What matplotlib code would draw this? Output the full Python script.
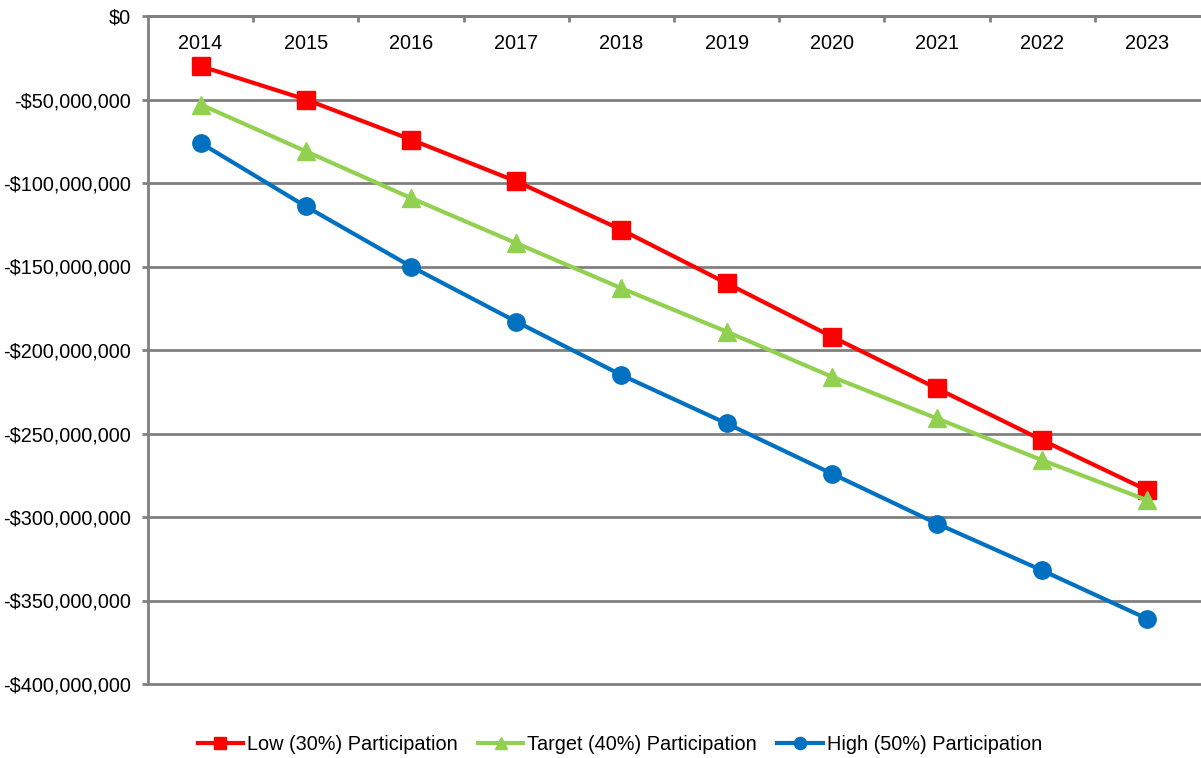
import matplotlib
matplotlib.use("Agg")
import matplotlib.pyplot as plt
from matplotlib.ticker import FuncFormatter, MultipleLocator

years = ["2014", "2015", "2016", "2017", "2018", "2019", "2020", "2021", "2022", "2023"]
low = [-30e6, -50e6, -74e6, -99e6, -128e6, -160e6, -192e6, -223e6, -254e6, -284e6]
target = [-53e6, -81e6, -109e6, -136e6, -163e6, -189e6, -216e6, -241e6, -266e6, -290e6]
high = [-76e6, -114e6, -150e6, -183e6, -215e6, -244e6, -274e6, -304e6, -332e6, -361e6]
series_names = ["Low (30%) Participation", "Target (40%) Participation", "High (50%) Participation"]

plt.rcParams['font.family'] = ['Liberation Sans', 'DejaVu Sans']
FS = 14.3

fig = plt.figure(figsize=(12.01, 7.58), dpi=100)
ax = fig.add_axes([148/1201, 1 - 684/758, (1200-148)/1201, (684-16)/758])

x = list(range(len(years)))
ax.plot(x, low, color="#FF0000", lw=3, marker="s", ms=12.5, label=series_names[0], zorder=3)
ax.plot(x, target, color="#92D050", lw=3, marker="^", ms=13, label=series_names[1], zorder=3)
ax.plot(x, high, color="#0070C0", lw=3, marker="o", ms=12.5, label=series_names[2], zorder=3)

ax.set_xlim(-0.5, len(years) - 0.5)
ax.set_ylim(-400e6, 0)
ax.yaxis.set_major_locator(MultipleLocator(50e6))

def fmt(v, pos):
    if v == 0:
        return "$0"
    s = "${:,.0f}".format(abs(v))
    return "-" + s if v < 0 else s
ax.yaxis.set_major_formatter(FuncFormatter(fmt))

ax.grid(axis="y", color="#808080", lw=2, zorder=1)
ax.set_axisbelow(True)
for gl in ax.get_ygridlines():
    gl.set_clip_on(False)
for s in ["right", "bottom"]:
    ax.spines[s].set_visible(False)
ax.spines["left"].set_color("#808080")
ax.spines["left"].set_linewidth(2)
ax.spines["top"].set_color("#808080")
ax.spines["top"].set_linewidth(2)

ax.tick_params(axis="y", length=4, width=2, color="#808080", labelsize=FS, pad=8.3)
ax.set_xticks(x)
ax.set_xticklabels(years)
ax.xaxis.set_ticks_position("top")
ax.tick_params(axis="x", which="major", length=0, labelsize=FS, pad=-26.5, top=True, bottom=False, labeltop=True, labelbottom=False)
ax.set_xticks([i + 0.5 for i in x[:-1]], minor=True)
ax.tick_params(axis="x", which="minor", direction="in", length=4, width=2, color="#808080", top=True, bottom=False)

leg = fig.legend(loc="center", bbox_to_anchor=(0.516, 1 - 744/758), ncol=3, frameon=False,
                 fontsize=FS, handlelength=2.3, handletextpad=0.2, columnspacing=1.0, markerscale=0.7)

fig.savefig("out.png", dpi=100)
